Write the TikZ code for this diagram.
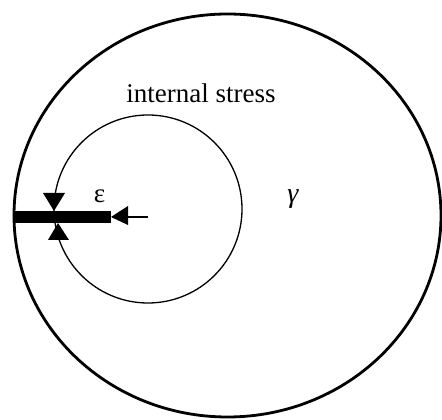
\documentclass[tikz,border=0pt]{standalone}
\usepackage{fontspec}
\setmainfont{Liberation Serif}
\begin{document}
\begin{tikzpicture}[x=1pt,y=1pt,
  outerline/.style={line width=2.8pt},
  innerline/.style={line width=1.3pt},
  lbl/.style={inner sep=0pt,font=\fontsize{27}{30}\selectfont}]
\useasboundingbox (0,0) rectangle (442,420);
% outer ellipse
\draw[outerline] (227.5,204.5) ellipse [x radius=213.5, y radius=201.5];
% inner circle
\draw[innerline] (148,211) circle [radius=94];
% thick bar
\fill (14,197) rectangle (111,209);
% arrow from centre to bar
\coordinate (tip) at (111,203);
\fill (tip) -- (128,214) -- (128,195) -- cycle;
\draw[line width=1.2pt] (128,203) -- (148,203);
% triangles on the inner circle
\fill (43,227) -- (65,227) -- (54,209) -- cycle;
\fill (48,180) -- (69,180) -- (58,197) -- cycle;
% labels
\node[lbl,anchor=base] (is) at (201,317) {internal stress};
\node[lbl,font=\fontsize{27}{30}\selectfont] (eps) at (99.5,223.5) {ε};
\node[lbl,font=\fontsize{28}{30}\itshape] (gam) at (293,221) {γ};
\end{tikzpicture}
\end{document}
